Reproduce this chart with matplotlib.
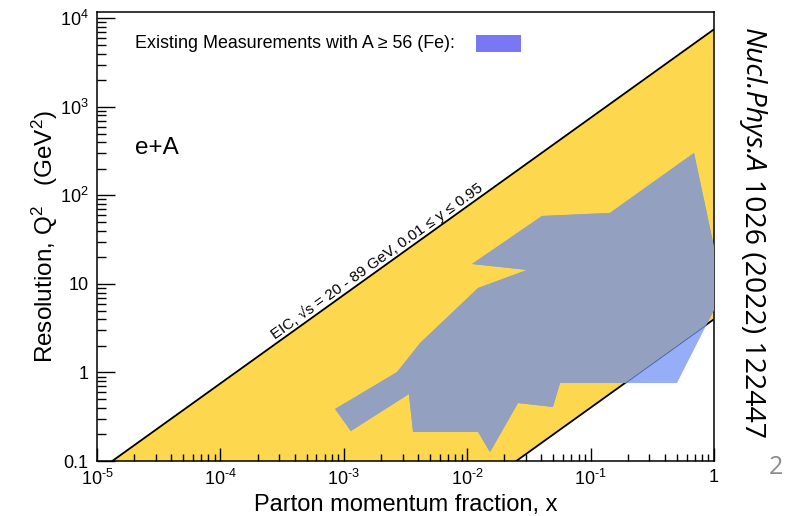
import numpy as np
import matplotlib
matplotlib.use("Agg")
import matplotlib.pyplot as plt
from matplotlib.patches import Polygon, Rectangle
from matplotlib.ticker import FixedLocator, LogLocator, NullFormatter

plt.rcParams['font.family'] = ['Liberation Sans', 'DejaVu Sans']
plt.rcParams['mathtext.fontset'] = 'custom'
plt.rcParams['mathtext.rm'] = 'Liberation Sans'
plt.rcParams['mathtext.it'] = 'Liberation Sans:italic'
plt.rcParams['mathtext.default'] = 'regular'

# ---- data ----
# EIC kinematic limits (upper: y=0.95 at sqrt(s)=89 GeV, lower: y=0.01 at sqrt(s)=20 GeV)
upper_x = [1.33e-5, 1.0]
upper_q2 = [0.1, 7525.0]
lower_x = [0.025, 1.0]
lower_q2 = [0.1, 4.0]

# existing e+A (A >= 56) measurements region
meas_x = [8.5e-4, 2.70e-3, 4.15e-3, 0.01225, 0.0306, 0.01094, 0.0404, 0.1435,
          0.689, 1.0, 1.0, 0.501, 0.0565, 0.0495, 0.0258, 0.0153, 0.01225,
          3.64e-3, 3.37e-3, 1.14e-3]
meas_q2 = [0.387, 1.01, 2.15, 9.0, 14.4, 16.8, 58.6, 63.4,
           302.0, 26.2, 5.08, 0.76, 0.76, 0.408, 0.452, 0.126, 0.213,
           0.213, 0.571, 0.218]

x_ticks = [1e-5, 1e-4, 1e-3, 1e-2, 1e-1, 1]
x_ticklabels = [r'$10^{\text{-}5}$', r'$10^{\text{-}4}$', r'$10^{\text{-}3}$',
                r'$10^{\text{-}2}$', r'$10^{\text{-}1}$', '1']
y_ticks = [0.1, 1, 10, 100, 1000, 10000]
y_ticklabels = ['0.1', '1', '10', r'$10^{2}$', r'$10^{3}$', r'$10^{4}$']

eic_label = 'EIC, \u221as = 20 - 89 GeV, 0.01 \u2264 y \u2264 0.95'

YELLOW = '#FDD84E'
GREY_BLUE = '#94A0BF'
LIGHT_BLUE = '#6A8CF5'
LEGEND_BLUE = '#7878F7'

fig = plt.figure(figsize=(7.89, 5.16), dpi=100)
ax = fig.add_axes([97/789, 1-461/516, (714-97)/789, (461-12)/516])
ax.set_xscale('log')
ax.set_yscale('log')
ax.set_xlim(1e-5, 1)
ax.set_ylim(0.1, 1.18e4)

# yellow EIC band
band_x = [upper_x[0], upper_x[1], lower_x[1], lower_x[0]]
band_y = [upper_q2[0], upper_q2[1], lower_q2[1], lower_q2[0]]
band = Polygon(np.column_stack([band_x, band_y]), closed=True,
               facecolor=YELLOW, edgecolor='none', zorder=1)
ax.add_patch(band)

ax.plot(lower_x, lower_q2, color='black', lw=1.3, zorder=2)

# measurements: light blue outside band, grey-blue inside band
ax.fill(meas_x, meas_q2, color=LIGHT_BLUE, alpha=0.7, lw=0, zorder=3)
clip = Polygon(np.column_stack([band_x, band_y]), closed=True,
               transform=ax.transData)
grey = ax.fill(meas_x, meas_q2, color=GREY_BLUE, lw=0, zorder=4)
grey[0].set_clip_path(clip)

ax.plot(upper_x, upper_q2, color='black', lw=1.3, zorder=5)

# label along the upper line
p0 = ax.transData.transform((upper_x[0], upper_q2[0]))
p1 = ax.transData.transform((upper_x[1], upper_q2[1]))
ang = np.degrees(np.arctan2(p1[1]-p0[1], p1[0]-p0[0]))
ax.text(1.85e-3, 18.0, eic_label, rotation=ang, rotation_mode='anchor',
        ha='center', va='center', fontsize=11, zorder=6)

# legend-like text
ax.text(0.0616, 0.929, 'Existing Measurements with A \u2265 56 (Fe):',
        transform=ax.transAxes, ha='left', va='center', fontsize=12.9)
ax.add_patch(Rectangle((0.614, 0.911), 0.073, 0.038, transform=ax.transAxes,
                       facecolor=LEGEND_BLUE, edgecolor='none'))
ax.text(0.061, 0.697, 'e+A', transform=ax.transAxes, ha='left', va='center',
        fontsize=17.5)

# axes styling
for side in ['top', 'right', 'bottom', 'left']:
    ax.spines[side].set_linewidth(1.1)
ax.xaxis.set_major_locator(FixedLocator(x_ticks))
ax.xaxis.set_ticklabels(x_ticklabels)
ax.yaxis.set_major_locator(FixedLocator(y_ticks))
ax.yaxis.set_ticklabels(y_ticklabels)
ax.xaxis.set_minor_locator(LogLocator(base=10, subs=np.arange(2, 10), numticks=20))
ax.yaxis.set_minor_locator(LogLocator(base=10, subs=np.arange(2, 10), numticks=20))
ax.xaxis.set_minor_formatter(NullFormatter())
ax.yaxis.set_minor_formatter(NullFormatter())
ax.tick_params(axis='both', which='both', direction='in', top=False, right=False,
               labelsize=13, width=1.0)
ax.tick_params(axis='x', which='major', length=9.5, pad=6)
ax.tick_params(axis='x', which='minor', length=5)
ax.tick_params(axis='y', which='major', length=13, pad=6)
ax.tick_params(axis='y', which='minor', length=6.5)

ax.set_xlabel('Parton momentum fraction, x', fontsize=17)
ax.set_ylabel(r'Resolution, Q$^{2}$   (GeV$^{2}$)', fontsize=17.5)
ax.xaxis.label.set_va('center')
ax.xaxis.set_label_coords(0.5, -0.098)
ax.yaxis.label.set_va('center')
ax.yaxis.set_label_coords(-0.085, 0.5)

# citation on the right
t1 = fig.text(752/789, 1-28/516, 'Nucl.Phys.A', rotation=-90, ha='center', va='top',
              fontsize=20.5, family='Open Sans', style='italic')
fig.canvas.draw()
r = fig.canvas.get_renderer()
bb = t1.get_window_extent(renderer=r)
fig.text(752/789, (bb.y0 - 6) / fig.bbox.height, '1026 (2022) 122447', rotation=-90,
         ha='center', va='top', fontsize=20.5, family='Open Sans')

fig.text(776/789, 1-468/516, '2', ha='center', va='center', fontsize=18,
         color='#8c8c8c', family='Open Sans')

fig.savefig('out.png', dpi=100)
